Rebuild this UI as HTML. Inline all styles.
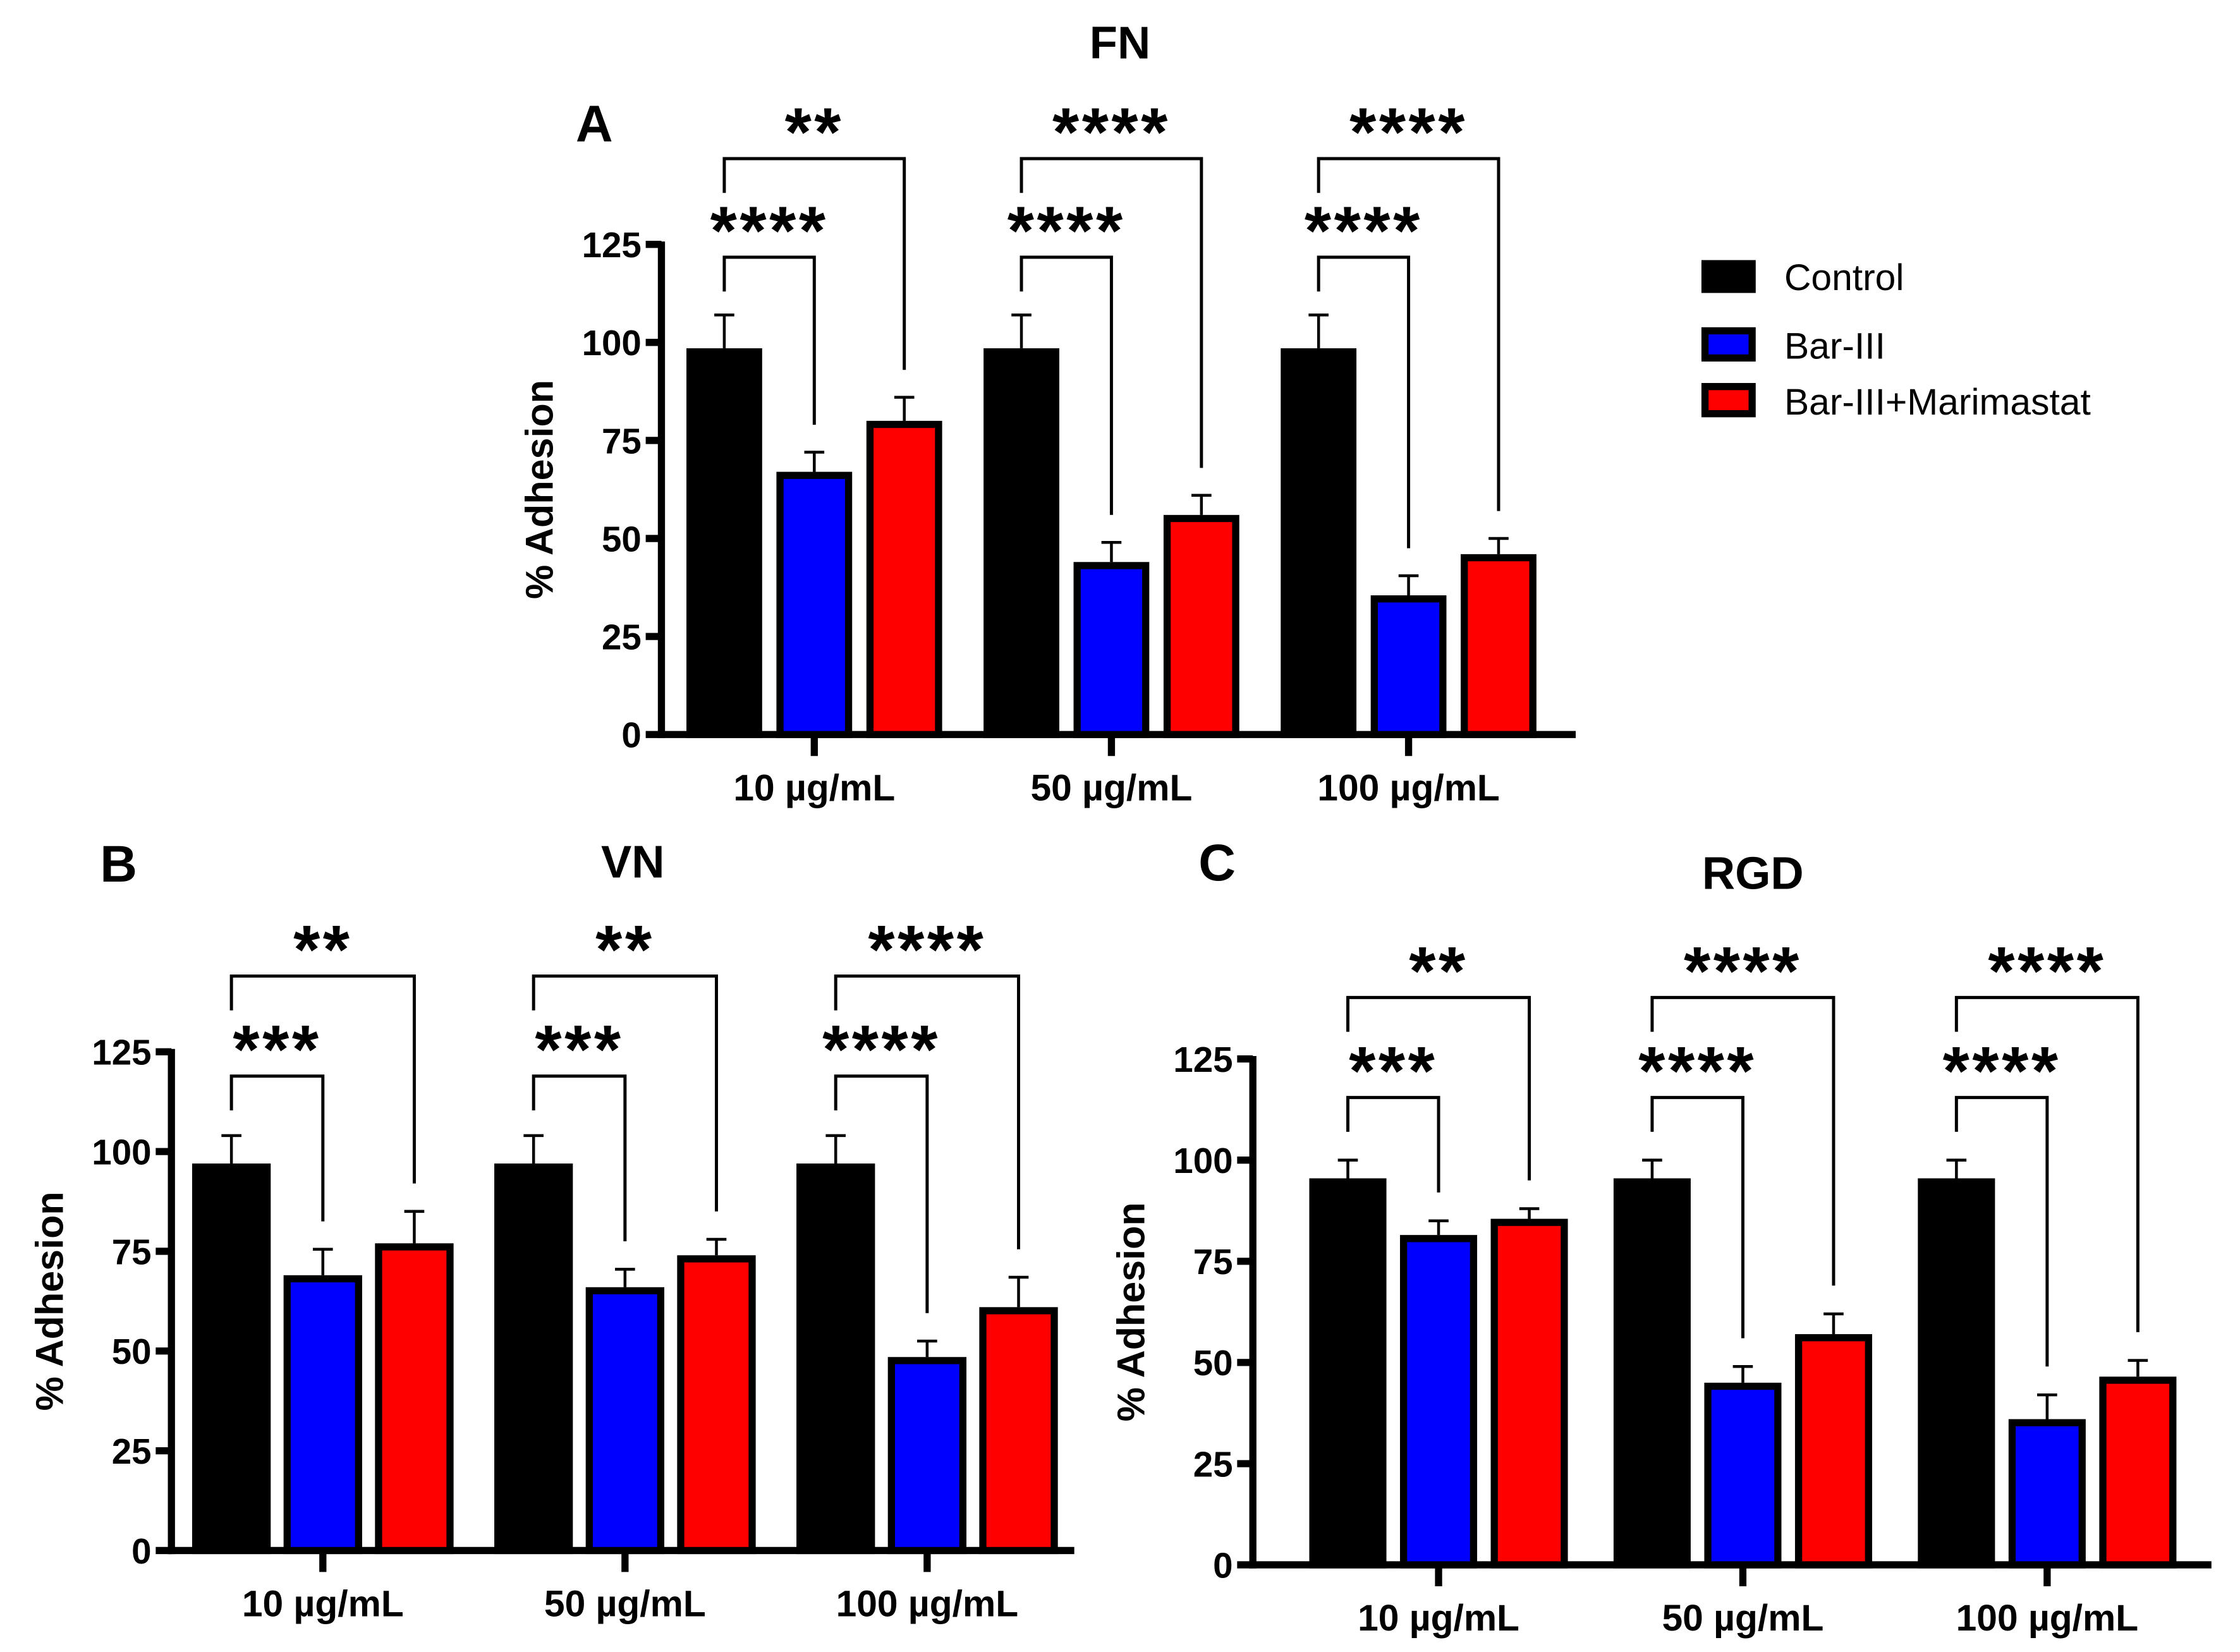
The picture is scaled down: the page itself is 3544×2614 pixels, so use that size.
<!DOCTYPE html>
<html><head><meta charset="utf-8"><style>
html,body{margin:0;padding:0;background:#fff;}
svg{display:block;}
text{font-family:"Liberation Sans",Arial,sans-serif;}
</style></head><body>
<svg id="fig" width="3544" height="2614" viewBox="0 0 1568 1156" preserveAspectRatio="none" xmlns="http://www.w3.org/2000/svg">
<rect width="1568" height="1156" fill="#fff"/>
<text x="784" y="41" font-size="32" font-weight="bold" text-anchor="middle">FN</text>
<text x="416" y="99" font-size="36" font-weight="bold" text-anchor="middle">A</text>
<text x="83" y="617" font-size="36" font-weight="bold" text-anchor="middle">B</text>
<text x="443" y="614" font-size="32" font-weight="bold" text-anchor="middle">VN</text>
<text x="852" y="616" font-size="36" font-weight="bold" text-anchor="middle">C</text>
<text x="1227" y="622" font-size="32" font-weight="bold" text-anchor="middle">RGD</text>
<g>
<rect x="1191" y="182" width="38" height="23" fill="#000"/>
<text x="1249" y="203" font-size="26">Control</text>
<rect x="1193.5" y="231.5" width="33" height="19" fill="#0000ff" stroke="#000" stroke-width="5"/>
<text x="1249" y="251" font-size="26">Bar-III</text>
<rect x="1193.5" y="270.5" width="33" height="19" fill="#ff0000" stroke="#000" stroke-width="5"/>
<text x="1249" y="290" font-size="26">Bar-III+Marimastat</text>
</g>
</svg>
<script>
const categories = ["10 µg/mL", "50 µg/mL", "100 µg/mL"];
const yTicks = [0, 25, 50, 75, 100, 125];
const fnControl = [98.5, 98.5, 98.5];
const fnControlErr = [107, 107, 107];
const fnBar = [67, 44, 35.5];
const fnBarErr = [72, 49, 40.5];
const fnMari = [80, 56, 46];
const fnMariErr = [86, 61, 50];
const fnStarsLow = ["****", "****", "****"];
const fnStarsHigh = ["**", "****", "****"];
const vnControl = [97, 97, 97];
const vnControlErr = [104, 104, 104];
const vnBar = [69, 66, 48.5];
const vnBarErr = [75.5, 70.5, 52.5];
const vnMari = [77, 74, 61];
const vnMariErr = [85, 78, 68.5];
const vnStarsLow = ["***", "***", "****"];
const vnStarsHigh = ["**", "**", "****"];
const rgdControl = [95.5, 95.5, 95.5];
const rgdControlErr = [100, 100, 100];
const rgdBar = [81.5, 45, 36];
const rgdBarErr = [85, 49, 42];
const rgdMari = [85.5, 57, 46.5];
const rgdMariErr = [88, 62, 50.5];
const rgdStarsLow = ["***", "****", "****"];
const rgdStarsHigh = ["**", "****", "****"];

const NS = "http://www.w3.org/2000/svg";
const svg = document.getElementById('fig');
function mk(tag, attrs, parent){
  const e = document.createElementNS(NS, tag);
  for (const k in attrs) e.setAttribute(k, attrs[k]);
  (parent||svg).appendChild(e); return e;
}
function panel(p){
  const g = mk('g', {});
  
  
  const y = v => p.y0 - (v/125)*(p.y0 - p.y125);
  const bw = p.bw, gap = p.gap;
  const cx = i => p.c0 + i*p.step;
  const fills = ['#000', '#0000ff', '#ff0000'];
  const vals = [p.ctrl, p.bar, p.mari];
  const errs = [p.ctrlE, p.barE, p.mariE];
  const sn = ['control', 'bar-iii', 'bar-iii-marimastat'];
  const ya = mk('line', {x1:p.ax, y1:p.y125-2, x2:p.ax, y2:p.y0+2.5, stroke:'#000','stroke-width':5}, g);
  
  
  const xa = mk('line', {x1:p.ax-2.5, y1:p.y0, x2:p.xEnd, y2:p.y0, stroke:'#000','stroke-width':5}, g);
  
  
  yTicks.forEach(t => {
    const tl = mk('line', {x1:p.ax-11, y1:y(t), x2:p.ax, y2:y(t), stroke:'#000','stroke-width':5}, g);
    
    
    const tx = mk('text', {x:p.ax-14, y:y(t)+9, 'font-size':25, 'font-weight':'bold', 'text-anchor':'end'}, g);
    tx.textContent = t;
    
    
  });
  const yt = mk('text', {x:0, y:0, 'font-size':27, 'font-weight':'bold', 'text-anchor':'middle', transform:`translate(${p.ax-76},${y(62.5)}) rotate(-90)`}, g);
  yt.textContent = '% Adhesion';
  
  
  categories.forEach((c, i) => {
    const c0 = cx(i);
    const tk = mk('line', {x1:c0, y1:p.y0, x2:c0, y2:p.y0+15, stroke:'#000','stroke-width':5}, g);
    
    
    const lb = mk('text', {x:c0, y:p.y0+46, 'font-size':26, 'font-weight':'bold', 'text-anchor':'middle'}, g);
    lb.textContent = c;
    
    
    const centers = [];
    for (let s = 0; s < 3; s++){
      const bx = c0 + (s-1)*(bw+gap) - bw/2;
      const bc = bx + bw/2; centers.push(bc);
      const v = vals[s][i], e = errs[s][i];
      const el = mk('line', {x1:bc, y1:y(e), x2:bc, y2:y(v), stroke:'#000','stroke-width':2}, g);
      
      
      const cap = mk('line', {x1:bc-7, y1:y(e), x2:bc+7, y2:y(e), stroke:'#000','stroke-width':2}, g);
      
      
      const r = mk('rect', {x:bx+2.5, y:y(v)+2.5, width:bw-5, height:y(0)-y(v)-2.5, fill:fills[s], stroke:'#000','stroke-width':5}, g);
      
      
    }
    const lx = centers[0];
    const brs = [
      {yb:p.brLow, rx:centers[1], re:errs[1][i], st:p.low[i]},
      {yb:p.brHigh, rx:centers[2], re:errs[2][i], st:p.high[i]}
    ];
    brs.forEach((b, k) => {
      const ye = y(b.re + 7);
      const pl = mk('polyline', {points:`${lx},${b.yb+24} ${lx},${b.yb} ${b.rx},${b.yb} ${b.rx},${ye}`, fill:'none', stroke:'#000','stroke-width':2.2}, g);
      
      
      const st = mk('text', {x:(lx+b.rx)/2, y:b.yb-2, 'font-size':48, 'font-weight':'bold', 'text-anchor':'middle', 'letter-spacing':2}, g);
      st.textContent = b.st;
      
      
    });
  });
}
panel({name:'panel-a-fn', ax:463, xEnd:1103, y0:514, y125:171, c0:570, step:208, bw:53, gap:10,
  ctrl:fnControl, ctrlE:fnControlErr, bar:fnBar, barE:fnBarErr, mari:fnMari, mariE:fnMariErr,
  low:fnStarsLow, high:fnStarsHigh, brLow:180, brHigh:111});
panel({name:'panel-b-vn', ax:120, xEnd:752, y0:1085, y125:736, c0:226, step:211.5, bw:55, gap:9,
  ctrl:vnControl, ctrlE:vnControlErr, bar:vnBar, barE:vnBarErr, mari:vnMari, mariE:vnMariErr,
  low:vnStarsLow, high:vnStarsHigh, brLow:753, brHigh:683});
panel({name:'panel-c-rgd', ax:877, xEnd:1548, y0:1095, y125:741, c0:1007, step:213, bw:54, gap:9.5,
  ctrl:rgdControl, ctrlE:rgdControlErr, bar:rgdBar, barE:rgdBarErr, mari:rgdMari, mariE:rgdMariErr,
  low:rgdStarsLow, high:rgdStarsHigh, brLow:768, brHigh:698});
</script>
</body></html>
